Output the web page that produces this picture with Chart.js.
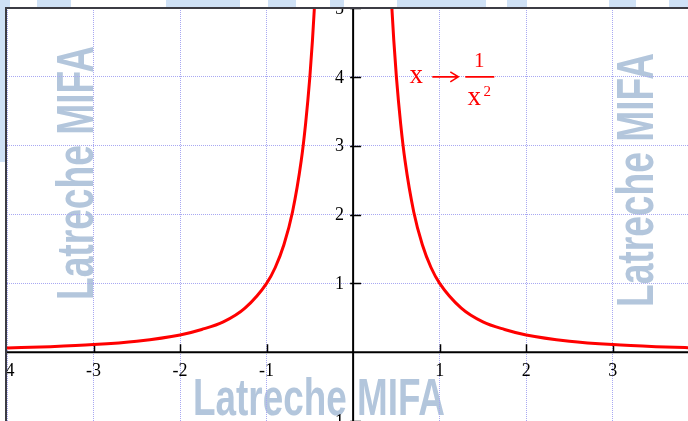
<!DOCTYPE html>
<html>
<head>
<meta charset="utf-8">
<title>x → 1/x²</title>
<script src="https://cdn.jsdelivr.net/npm/chart.js@4.4.1/dist/chart.umd.min.js"></script>
<style>
  html, body { margin: 0; padding: 0; background: #fff; overflow: hidden; }
  #wrap { width: 688px; height: 421px; position: relative; }
</style>
</head>
<body>
<div id="wrap"><canvas id="c"></canvas></div>
<script>
// Left branch of the curve (x < 0)
const leftX = [-4, -3.5, -3, -2.5, -2, -1.75, -1.5, -1.25, -1, -0.9, -0.8, -0.7, -0.6, -0.55, -0.5, -0.47, -0.44];
const leftY = [0.06, 0.08, 0.11, 0.16, 0.25, 0.33, 0.44, 0.64, 1, 1.23, 1.56, 2.04, 2.78, 3.31, 4, 4.53, 5.17];
// Right branch of the curve (x > 0)
const rightX = [0.44, 0.47, 0.5, 0.55, 0.6, 0.7, 0.8, 0.9, 1, 1.25, 1.5, 1.75, 2, 2.5, 3, 3.5, 4];
const rightY = [5.17, 4.53, 4, 3.31, 2.78, 2.04, 1.56, 1.23, 1, 0.64, 0.44, 0.33, 0.25, 0.16, 0.11, 0.08, 0.06];

// Axis ranges and tick step
const xRange = [-4, 3.87];
const yRange = [-1, 5];
const tickStep = 1;

const curveLabel = { anchorX: 0.73, anchorY: 4 };
const watermark = 'Latreche MIFA';

const RED = '#ff0000';
const GRID = '#a8a8f2';
const SERIF = '"Liberation Serif", "Times New Roman", serif';

function pts(xs, ys) { return xs.map((x, i) => ({ x: x, y: ys[i] })); }

function drawMark(ctx, cx, cy, angle, targetW) {
  ctx.save();
  ctx.translate(cx, cy);
  ctx.rotate(angle);
  ctx.font = 'bold 52px "Liberation Sans", Arial, sans-serif';
  const w = ctx.measureText(watermark).width;
  ctx.scale(targetW / w, 1);
  ctx.fillStyle = '#b3c6dc';
  ctx.textAlign = 'center';
  ctx.textBaseline = 'alphabetic';
  ctx.fillText(watermark, 0, 0);
  ctx.restore();
}

const decor = {
  id: 'decor',
  beforeDraw(chart) {
    const ctx = chart.ctx;
    ctx.save();
    ctx.fillStyle = '#ffffff';
    ctx.fillRect(0, 0, chart.width, chart.height);
    ctx.restore();
    drawMark(ctx, 93, 173, -Math.PI / 2, 254);
    drawMark(ctx, 653, 180, -Math.PI / 2, 254);
    drawMark(ctx, 319, 415, 0, 252);
  },
  beforeDatasetsDraw(chart) {
    const ctx = chart.ctx;
    const xs = chart.scales.x, ys = chart.scales.y;
    const a = chart.chartArea;
    const x0 = xs.getPixelForValue(0);
    const y0 = ys.getPixelForValue(0);
    ctx.save();
    // axes through the origin
    ctx.strokeStyle = '#000';
    ctx.lineWidth = 2;
    ctx.beginPath();
    ctx.moveTo(a.left, y0); ctx.lineTo(a.right, y0);
    ctx.moveTo(x0, a.top); ctx.lineTo(x0, chart.height);
    ctx.stroke();
    // tick marks
    ctx.lineWidth = 1.5;
    ctx.beginPath();
    xs.ticks.forEach(t => {
      if (t.value === 0 || t.value === xRange[0]) return;
      const p = Math.round(xs.getPixelForValue(t.value)) + 0.5;
      ctx.moveTo(p, y0 - 8); ctx.lineTo(p, y0);
    });
    ys.ticks.forEach(t => {
      if (t.value === 0) return;
      const p = Math.round(ys.getPixelForValue(t.value)) + 0.5;
      ctx.moveTo(x0 - 3, p); ctx.lineTo(x0 + 8, p);
    });
    ctx.stroke();
    // tick labels
    ctx.fillStyle = '#000';
    ctx.font = '18px ' + SERIF;
    ctx.textBaseline = 'middle';
    ctx.textAlign = 'center';
    xs.ticks.forEach(t => {
      if (t.value === 0) return;
      ctx.fillText(String(t.value), xs.getPixelForValue(t.value), y0 + 19);
    });
    ctx.textAlign = 'right';
    ys.ticks.forEach(t => {
      if (t.value === 0) return;
      ctx.fillText(String(t.value), x0 - 9, ys.getPixelForValue(t.value) + 1);
    });
    ctx.restore();
  },
  afterDraw(chart) {
    const ctx = chart.ctx;
    const W = chart.width, H = chart.height;
    ctx.save();
    // page strip above and to the left of the frame
    ctx.fillStyle = '#ffffff';
    ctx.fillRect(0, 0, W, 7);
    ctx.fillRect(0, 0, 5, H);
    ctx.fillStyle = '#cfe1f6';
    [[0, 10], [37, 71], [166, 240], [268, 296], [330, 344], [397, 486], [507, 527], [609, 636], [669, 688]]
      .forEach(r => ctx.fillRect(r[0], 0, r[1] - r[0], 7));
    ctx.fillRect(0, 0, 5, 162);
    // frame
    ctx.fillStyle = '#3c3c44';
    ctx.fillRect(5, 7, W - 5, 2);
    ctx.fillRect(5, 7, 2, H - 7);

    // function label
    const ax = chart.scales.x.getPixelForValue(curveLabel.anchorX);
    const ay = chart.scales.y.getPixelForValue(curveLabel.anchorY);
    ctx.fillStyle = RED;
    ctx.strokeStyle = RED;
    ctx.textAlign = 'center';
    ctx.textBaseline = 'alphabetic';
    ctx.font = '27px ' + SERIF;
    ctx.fillText('x', ax, ay + 6);
    ctx.lineWidth = 1.6;
    ctx.beginPath();
    ctx.moveTo(ax + 16, ay); ctx.lineTo(ax + 42, ay);
    ctx.moveTo(ax + 34, ay - 5); ctx.lineTo(ax + 42, ay); ctx.lineTo(ax + 34, ay + 5);
    ctx.moveTo(ax + 49, ay); ctx.lineTo(ax + 78, ay);
    ctx.stroke();
    ctx.font = '21px ' + SERIF;
    ctx.fillText('1', ax + 63, ay - 10);
    ctx.font = '27px ' + SERIF;
    ctx.fillText('x', ax + 58, ay + 28);
    ctx.font = '15px ' + SERIF;
    ctx.fillText('2', ax + 71, ay + 19);
    ctx.restore();
  }
};

new Chart(document.getElementById('c'), {
  type: 'line',
  data: {
    datasets: [
      { data: pts(leftX, leftY), borderColor: RED, borderWidth: 3, pointRadius: 0, cubicInterpolationMode: 'monotone', fill: false },
      { data: pts(rightX, rightY), borderColor: RED, borderWidth: 3, pointRadius: 0, cubicInterpolationMode: 'monotone', fill: false }
    ]
  },
  options: {
    responsive: true,
    maintainAspectRatio: false,
    animation: false,
    devicePixelRatio: 1,
    layout: { padding: { left: 7, top: 8, right: 0, bottom: 0 } },
    plugins: { legend: { display: false }, tooltip: { enabled: false } },
    scales: {
      x: {
        type: 'linear',
        min: xRange[0], max: xRange[1],
        position: { y: 0 },
        ticks: { display: false, stepSize: tickStep, includeBounds: false, autoSkip: false },
        grid: { color: GRID, lineWidth: 1, drawTicks: false },
        border: { display: false, dash: [1, 1] }
      },
      y: {
        type: 'linear',
        min: yRange[0], max: yRange[1],
        position: { x: 0 },
        ticks: { display: false, stepSize: tickStep, includeBounds: false, autoSkip: false },
        grid: { color: GRID, lineWidth: 1, drawTicks: false },
        border: { display: false, dash: [1, 1] }
      }
    }
  },
  plugins: [decor]
});
</script>
</body>
</html>
